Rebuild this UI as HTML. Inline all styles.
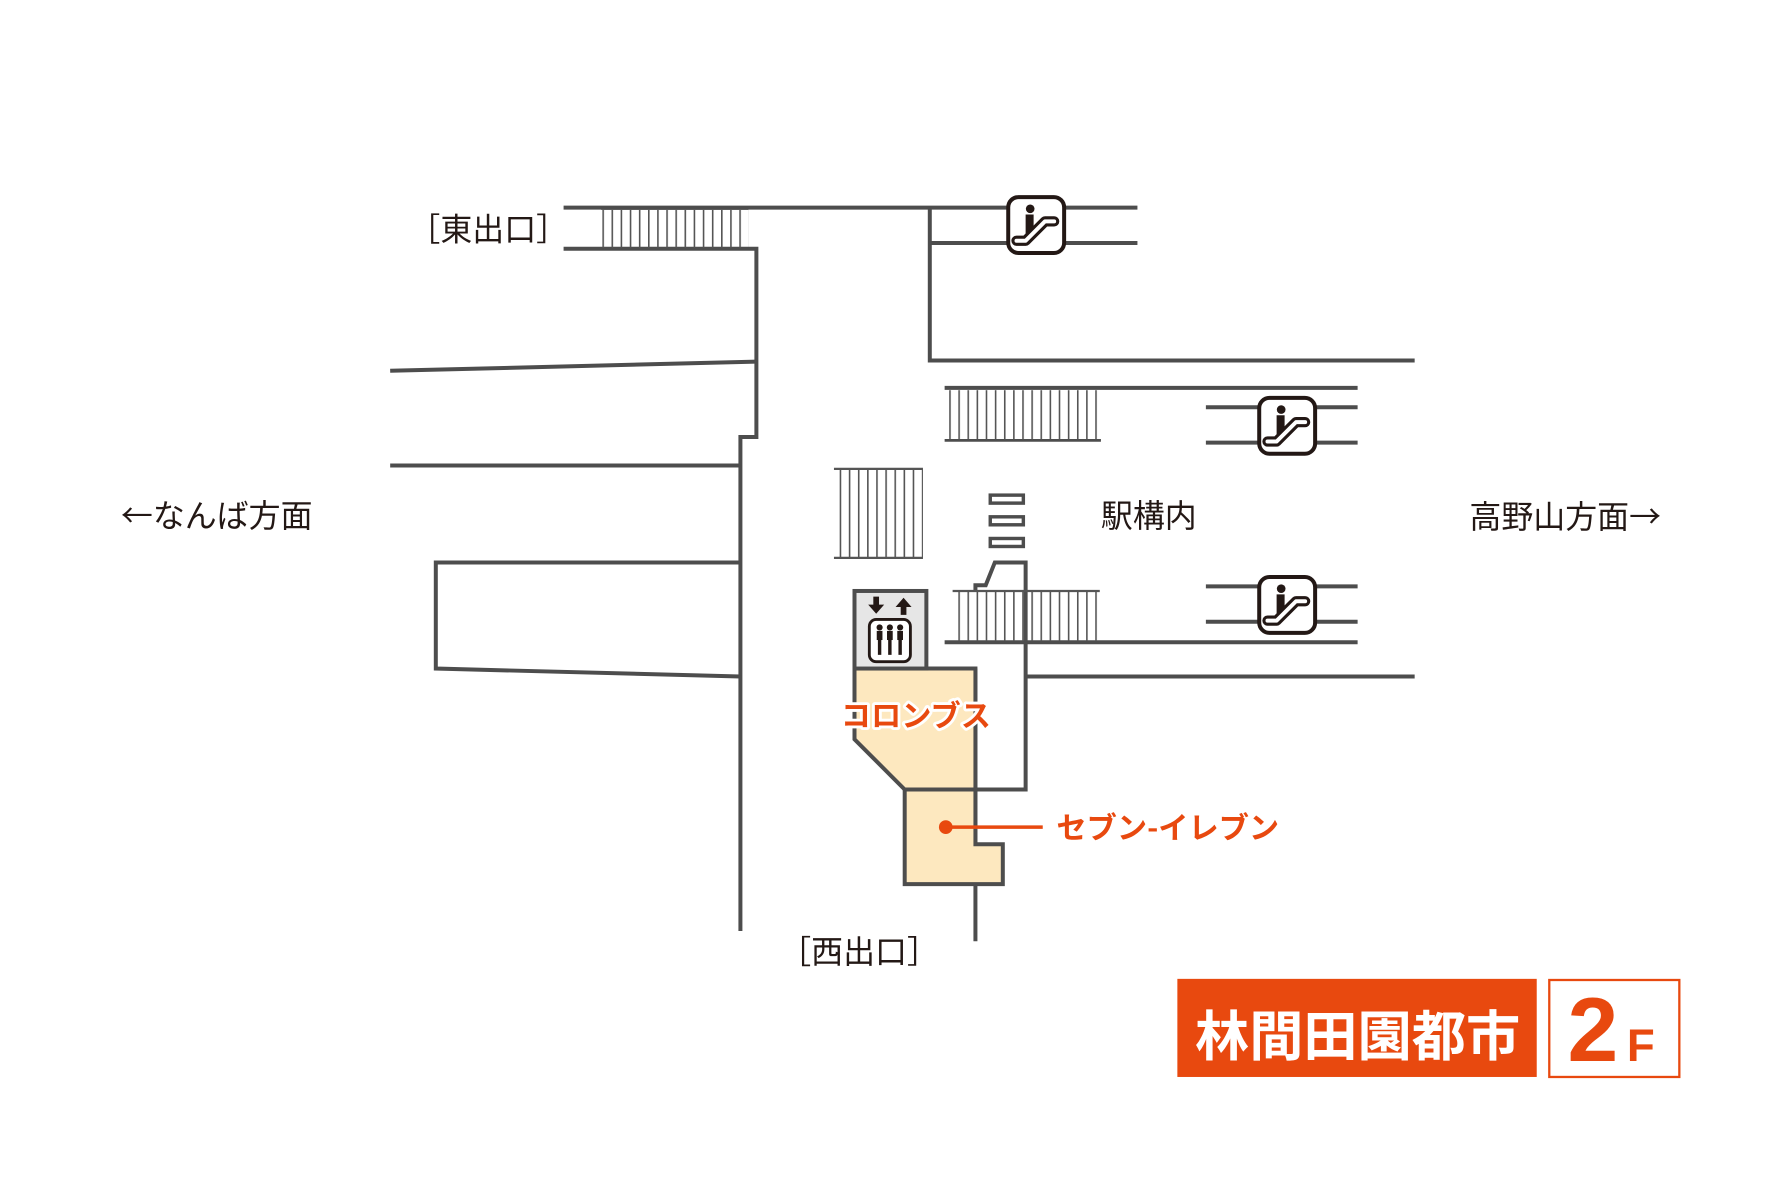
<!DOCTYPE html>
<html><head><meta charset="utf-8"><style>
html,body{margin:0;padding:0;background:#fff;}
svg{display:block;}
text{font-family:"Noto Sans CJK JP","Liberation Sans",sans-serif;}
.b{font-family:"Liberation Sans","Noto Sans CJK JP",sans-serif;}
</style></head><body>
<svg width="1790" height="1193" viewBox="0 0 1569 1045.7" xmlns="http://www.w3.org/2000/svg">
<defs>
<pattern id="st" x="0" y="0" width="8" height="10" patternUnits="userSpaceOnUse">
<rect x="0" y="0" width="1.4" height="10" fill="#555"/>
</pattern>
<g id="esc">
<rect x="1.75" y="1.75" width="49" height="49" rx="9" fill="#fff" stroke="#231815" stroke-width="3.5"/>
<circle cx="21" cy="12" r="3.8" fill="#231815"/>
<path d="M17 17 h7 v14 l-7 7 z" fill="#231815"/>
<path d="M9 40 H17 L34 23 H42" fill="none" stroke="#231815" stroke-width="9" stroke-linecap="round" stroke-linejoin="round"/>
<path d="M9 40 H17 L34 23 H42" fill="none" stroke="#fff" stroke-width="3.5" stroke-linecap="round" stroke-linejoin="round"/>
</g>
</defs>
<g fill="none" stroke="#4d4d4d" stroke-width="3.5">
<polyline points="494,182 997,182"/>
<polyline points="494,218 663,218 663,383 649,383 649,816"/>
<line x1="815" y1="213" x2="997" y2="213"/>
<polyline points="815,182 815,316 1240,316"/>
<line x1="342" y1="325" x2="663" y2="317"/>
<line x1="342" y1="408" x2="649" y2="408"/>
<polyline points="649,493 382,493 382,586 649,593"/>
<line x1="828" y1="340" x2="1190" y2="340"/>
<line x1="828" y1="386" x2="965" y2="386" stroke-width="2.5"/>
<line x1="1057" y1="357" x2="1190" y2="357"/>
<line x1="1057" y1="388" x2="1190" y2="388"/>
<line x1="1057" y1="514" x2="1190" y2="514"/>
<line x1="1057" y1="545" x2="1190" y2="545"/>
<line x1="828" y1="563" x2="1190" y2="563"/>
<polyline points="899,593 1240,593"/>
<polyline points="855,518 855,513 864,513 872,493 899,493 899,692 793,692"/>
<line x1="855" y1="586" x2="855" y2="825"/>
</g>
<rect x="527" y="184" width="129" height="33" fill="url(#st)"/>
<line x1="527" y1="183" x2="656" y2="183" stroke="#4d4d4d" stroke-width="2"/>
<rect x="830" y="342" width="136" height="43" fill="url(#st)"/>
<rect x="732" y="411" width="77" height="78" fill="url(#st)"/>
<line x1="731" y1="411" x2="809" y2="411" stroke="#555" stroke-width="2"/>
<line x1="731" y1="489" x2="809" y2="489" stroke="#555" stroke-width="2"/>
<rect x="835" y="518" width="129" height="44" fill="url(#st)"/>
<line x1="835" y1="518" x2="964" y2="518" stroke="#555" stroke-width="2"/>
<g fill="#fff" stroke="#4d4d4d" stroke-width="3">
<rect x="868" y="434" width="29" height="7"/>
<rect x="868" y="453" width="29" height="7"/>
<rect x="868" y="472" width="29" height="7"/>
</g>
<polygon points="749,586 855,586 855,692 793,692 749,648" fill="#fde8bf" stroke="#4d4d4d" stroke-width="3.5"/>
<polygon points="793,692 855,692 855,740 879,740 879,775 793,775" fill="#fde8bf" stroke="#4d4d4d" stroke-width="3.5"/>
<rect x="749" y="518" width="63" height="68" fill="#e6e6e6" stroke="#4d4d4d" stroke-width="3.5"/>
<path d="M765.5 523 h5 v7 h4.5 l-7 8 l-7 -8 h4.5z" fill="#231815"/>
<path d="M789.5 539 h5 v-7 h4.5 l-7 -8 l-7 8 h4.5z" fill="#231815"/>
<rect x="762" y="543" width="36" height="37" rx="6" fill="#fff" stroke="#231815" stroke-width="2.5"/>
<g fill="#231815">
<circle cx="771" cy="550" r="2.7"/><rect x="768.5" y="553" width="5" height="8"/><rect x="769.5" y="560" width="3" height="14"/>
<circle cx="780" cy="550" r="2.7"/><rect x="777.5" y="553" width="5" height="8"/><rect x="778.5" y="560" width="3" height="14"/>
<circle cx="789" cy="550" r="2.7"/><rect x="786.5" y="553" width="5" height="8"/><rect x="787.5" y="560" width="3" height="14"/>
</g>
<use href="#esc" x="882" y="171"/>
<use href="#esc" x="1102" y="347"/>
<use href="#esc" x="1102" y="504"/>
<circle cx="829" cy="725" r="6" fill="#e8490f"/>
<line x1="829" y1="725" x2="914" y2="725" stroke="#e8490f" stroke-width="3"/>
<g fill="#231815" font-size="28">
<text x="358" y="211">［東出口］</text>
<text x="106" y="462">←なんば方面</text>
<text x="965" y="462">駅構内</text>
<text x="1288" y="463">高野山方面→</text>
<text x="683" y="844">［西出口］</text>
</g>
<text x="737" y="637" font-size="26.5" font-weight="bold" fill="#e8490f" stroke="#fff" stroke-width="5" paint-order="stroke" stroke-linejoin="round">コロンブス</text>
<text x="926" y="735" font-size="26.5" font-weight="bold" fill="#e8490f">セブン-イレブン</text>
<rect x="1032" y="858" width="315" height="86" fill="#e8490f"/>
<text x="1190" y="925" font-size="47.5" font-weight="bold" fill="#fff" text-anchor="middle">林間田園都市</text>
<rect x="1358" y="859" width="114" height="85" fill="#fff" stroke="#e8490f" stroke-width="2"/>
<text class="b" x="1374" y="930" font-size="80" font-weight="bold" fill="#e8490f">2</text>
<text class="b" x="1426" y="930" font-size="40" font-weight="bold" fill="#e8490f">F</text>
</svg>
</body></html>
